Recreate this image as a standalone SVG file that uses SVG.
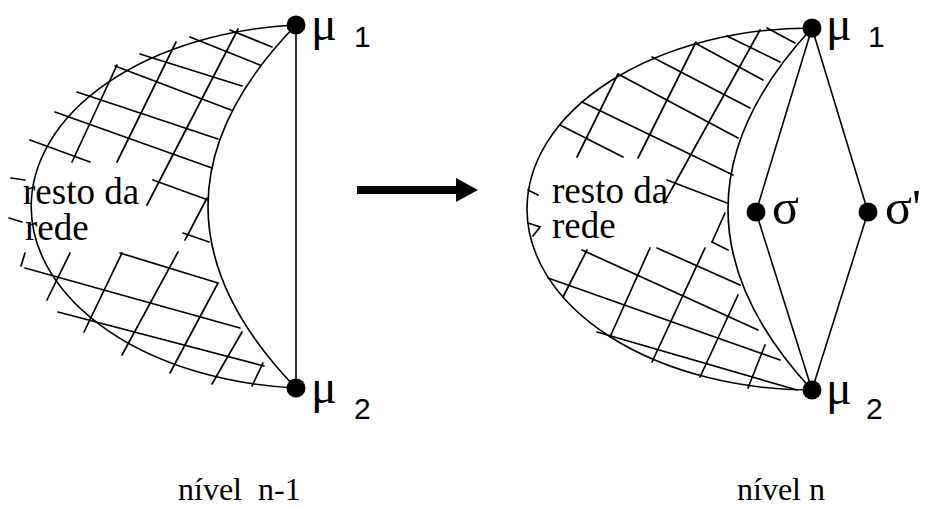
<svg xmlns="http://www.w3.org/2000/svg" width="930" height="509" viewBox="0 0 930 509">
<style>
.edge{fill:none;stroke:#000;stroke-width:1.6}
.hatch{fill:none;stroke:#000;stroke-width:1.7;stroke-linecap:round}
.conn{fill:none;stroke:#000;stroke-width:1.6}
.dot{fill:#000}
</style>
<rect width="930" height="509" fill="#fff"/>

<g id="region-left">
<path class="edge" d="M296,25 A286,182 0 0 0 296,388"/>
<path class="edge" d="M296,25 Q120,206 296,388"/>
<g class="hatch">
<line x1="230" y1="30" x2="272" y2="47"/>
<line x1="190" y1="37" x2="260" y2="65"/>
<line x1="140" y1="54" x2="242" y2="86"/>
<line x1="115" y1="66" x2="231" y2="110"/>
<line x1="77" y1="92" x2="218" y2="139"/>
<line x1="55" y1="112" x2="212" y2="168"/>
<line x1="30" y1="140" x2="90" y2="162"/>
<line x1="153" y1="180" x2="208" y2="200"/>
<line x1="183" y1="233" x2="209" y2="242"/>
<line x1="120" y1="253" x2="218" y2="283"/>
<line x1="25" y1="268" x2="240" y2="328"/>
<line x1="58" y1="312" x2="264" y2="366"/>
<line x1="117" y1="65" x2="72" y2="162"/>
<line x1="176" y1="42" x2="117" y2="162"/>
<line x1="238" y1="29" x2="147" y2="205"/>
<line x1="25" y1="253" x2="21" y2="266"/>
<line x1="70" y1="253" x2="47" y2="300"/>
<line x1="122" y1="253" x2="84" y2="332"/>
<line x1="178" y1="252" x2="122" y2="355"/>
<line x1="207" y1="198" x2="185" y2="240"/>
<line x1="218" y1="283" x2="170" y2="373"/>
<line x1="242" y1="332" x2="212" y2="384"/>
<line x1="263" y1="363" x2="252" y2="386"/>
<line x1="11" y1="178" x2="25" y2="180"/>
<line x1="9" y1="218" x2="22" y2="222"/>
</g>
<text x="23" y="204" font-family="Liberation Serif, Times New Roman, serif" font-size="37" fill="#000">resto da</text>
<text x="25" y="240" font-family="Liberation Serif, Times New Roman, serif" font-size="37" fill="#000">rede</text>
</g>

<g id="region-right">
<path class="edge" d="M812,28 A285,181 0 0 0 812,390"/>
<path class="edge" d="M812,28 Q644,209 812,390"/>
<g class="hatch">
<line x1="767" y1="28" x2="795" y2="43"/>
<line x1="727" y1="36" x2="780" y2="62"/>
<line x1="695" y1="43" x2="763" y2="80"/>
<line x1="652" y1="57" x2="750" y2="108"/>
<line x1="618" y1="74" x2="738" y2="138"/>
<line x1="582" y1="102" x2="733" y2="175"/>
<line x1="560" y1="125" x2="623" y2="157"/>
<line x1="667" y1="180" x2="727" y2="203"/>
<line x1="712" y1="242" x2="728" y2="250"/>
<line x1="657" y1="248" x2="740" y2="285"/>
<line x1="582" y1="250" x2="758" y2="330"/>
<line x1="548" y1="278" x2="780" y2="360"/>
<line x1="597" y1="332" x2="797" y2="390"/>
<line x1="618" y1="74" x2="577" y2="157"/>
<line x1="696" y1="42" x2="638" y2="158"/>
<line x1="760" y1="30" x2="664" y2="203"/>
<line x1="725" y1="213" x2="712" y2="242"/>
<line x1="587" y1="250" x2="563" y2="297"/>
<line x1="650" y1="248" x2="610" y2="337"/>
<line x1="705" y1="248" x2="652" y2="362"/>
<line x1="738" y1="295" x2="700" y2="377"/>
<line x1="765" y1="345" x2="748" y2="388"/>
<line x1="528" y1="190" x2="538" y2="195"/>
<polyline points="528,223 540,227 533,236"/>
</g>
<text x="552" y="203" font-family="Liberation Serif, Times New Roman, serif" font-size="37" fill="#000">resto da</text>
<text x="552" y="238" font-family="Liberation Serif, Times New Roman, serif" font-size="37" fill="#000">rede</text>
</g>

<g id="connectors">
<line class="conn" x1="296" y1="25" x2="296" y2="388"/>
<line class="conn" x1="812" y1="28" x2="756" y2="212"/>
<line class="conn" x1="756" y1="212" x2="812" y2="390"/>
<line class="conn" x1="812" y1="28" x2="868" y2="212"/>
<line class="conn" x1="868" y1="212" x2="812" y2="390"/>
</g>

<g id="transition-arrow">
<rect x="357" y="186" width="101" height="8" fill="#000"/>
<polygon points="456,178 478,190 456,202" fill="#000"/>
</g>

<g id="node-mu1-left">
<circle class="dot" cx="296" cy="25" r="9.5"/>
<text x="311" y="40" font-family="Liberation Serif, Times New Roman, serif" font-size="48" fill="#000">μ</text>
<text x="354" y="47" font-family="Liberation Sans, Arial, sans-serif" font-size="30" fill="#000">1</text>
</g>
<g id="node-mu2-left">
<circle class="dot" cx="296" cy="388" r="9.5"/>
<text x="311" y="403" font-family="Liberation Serif, Times New Roman, serif" font-size="48" fill="#000">μ</text>
<text x="354" y="419" font-family="Liberation Sans, Arial, sans-serif" font-size="30" fill="#000">2</text>
</g>
<g id="node-mu1-right">
<circle class="dot" cx="812" cy="28" r="9.5"/>
<text x="826" y="40" font-family="Liberation Serif, Times New Roman, serif" font-size="48" fill="#000">μ</text>
<text x="868" y="47" font-family="Liberation Sans, Arial, sans-serif" font-size="30" fill="#000">1</text>
</g>
<g id="node-mu2-right">
<circle class="dot" cx="812" cy="390" r="9.5"/>
<text x="826" y="404" font-family="Liberation Serif, Times New Roman, serif" font-size="48" fill="#000">μ</text>
<text x="866" y="419" font-family="Liberation Sans, Arial, sans-serif" font-size="30" fill="#000">2</text>
</g>
<g id="node-sigma">
<circle class="dot" cx="756" cy="212" r="9.5"/>
<text x="772" y="224" font-family="Liberation Serif, Times New Roman, serif" font-size="50" fill="#000">σ</text>
</g>
<g id="node-sigma-prime">
<circle class="dot" cx="868" cy="212" r="9.5"/>
<text x="885" y="224" font-family="Liberation Serif, Times New Roman, serif" font-size="50" fill="#000">σ'</text>
</g>

<text x="178" y="500" font-family="Liberation Serif, Times New Roman, serif" font-size="32" fill="#000" style="white-space:pre">nível  n-1</text>
<text x="737" y="500" font-family="Liberation Serif, Times New Roman, serif" font-size="32" fill="#000">nível n</text>
</svg>
